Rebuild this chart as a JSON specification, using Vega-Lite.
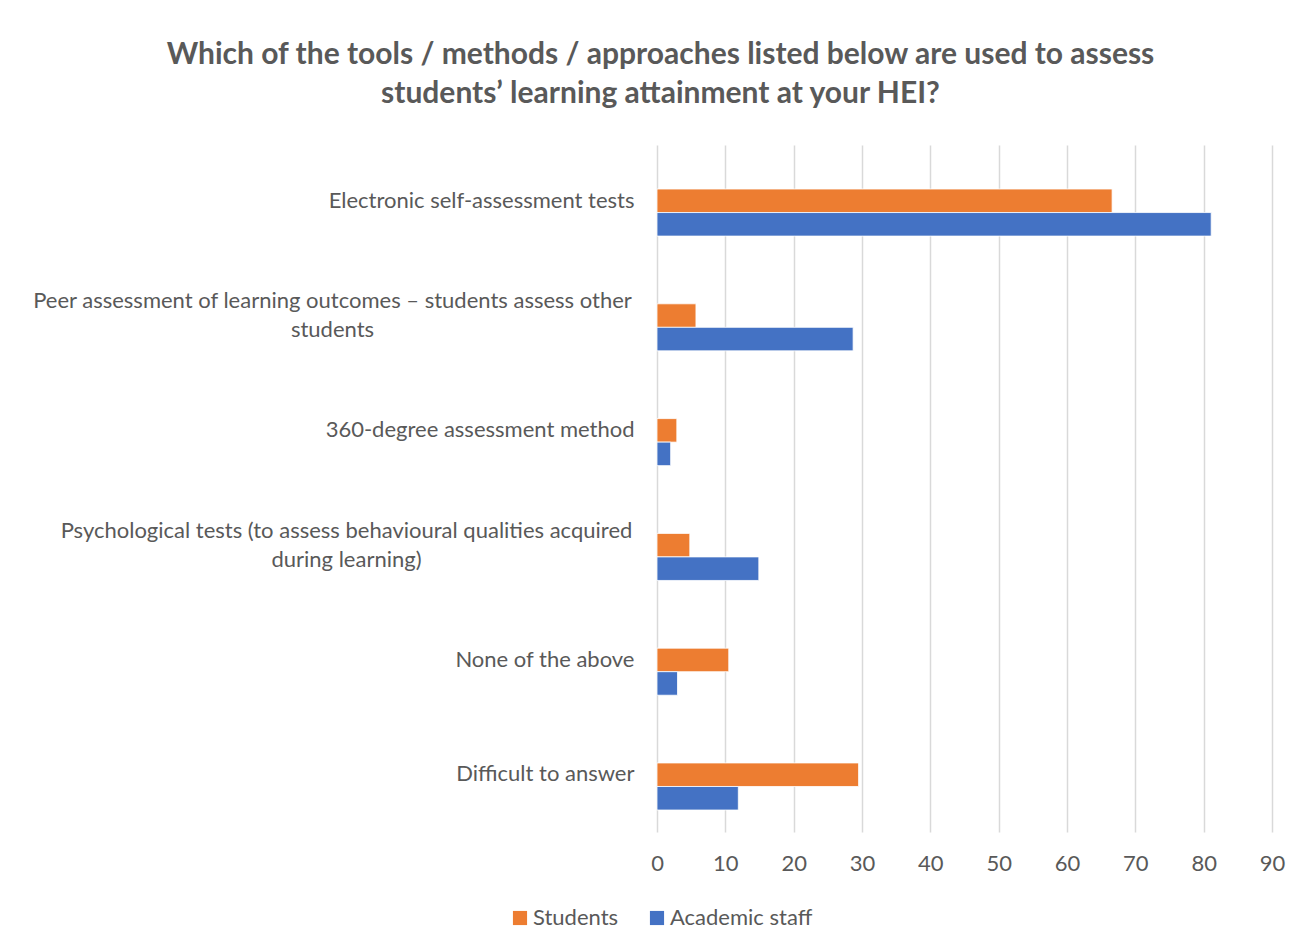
{
  "$schema": "https://vega.github.io/schema/vega-lite/v6.json",
  "autosize": "none",
  "width": 615,
  "height": 687,
  "padding": {"left": 657, "top": 145, "right": 36, "bottom": 116},
  "background": "white",
  "title": {
    "text": ["Which of the tools / methods / approaches listed below are used to assess", "students’ learning attainment at your HEI?"],
    "font": "Lato",
    "fontSize": 30,
    "fontWeight": "bold",
    "color": "#595959",
    "anchor": "middle",
    "frame": "group",
    "dx": -304,
    "offset": 36,
    "lineHeight": 39
  },
  "data": {
    "values": [
      {"category": "Electronic self-assessment tests", "group": "Students", "value": 66.6},
      {"category": "Electronic self-assessment tests", "group": "Academic staff", "value": 81.1},
      {"category": "Peer assessment of learning outcomes – students assess other students", "group": "Students", "value": 5.7},
      {"category": "Peer assessment of learning outcomes – students assess other students", "group": "Academic staff", "value": 28.7},
      {"category": "360-degree assessment method", "group": "Students", "value": 2.9},
      {"category": "360-degree assessment method", "group": "Academic staff", "value": 2.0},
      {"category": "Psychological tests (to assess behavioural qualities acquired during learning)", "group": "Students", "value": 4.8},
      {"category": "Psychological tests (to assess behavioural qualities acquired during learning)", "group": "Academic staff", "value": 14.9},
      {"category": "None of the above", "group": "Students", "value": 10.5},
      {"category": "None of the above", "group": "Academic staff", "value": 3.0},
      {"category": "Difficult to answer", "group": "Students", "value": 29.5},
      {"category": "Difficult to answer", "group": "Academic staff", "value": 11.9}
    ]
  },
  "mark": {"type": "bar", "stroke": "white", "strokeWidth": 0.8},
  "encoding": {
    "y": {
      "field": "category",
      "type": "nominal",
      "sort": null,
      "scale": {"paddingInner": 0.59, "paddingOuter": 0.2875, "align": 0.667},
      "axis": {
        "title": null,
        "domain": false,
        "ticks": false,
        "tickSize": 0,
        "labelFont": "Lato",
        "labelFontSize": 22,
        "labelColor": "#595959",
        "labelLimit": 700,
        "labelOffset": {"condition": {"test": "indexof(datum.value, 'Peer') == 0 || indexof(datum.value, 'Psych') == 0", "value": -26}, "value": -12},
        "labelLineHeight": 29,
        "labelBaseline": "middle",
        "labelExpr": "datum.value == 'Peer assessment of learning outcomes – students assess other students' ? ['Peer assessment of learning outcomes – students assess other', 'students'] : datum.value == 'Psychological tests (to assess behavioural qualities acquired during learning)' ? ['Psychological tests (to assess behavioural qualities acquired', 'during learning)'] : datum.value",
        "labelAlign": {"condition": {"test": "indexof(datum.value, 'Peer') == 0 || indexof(datum.value, 'Psych') == 0", "value": "center"}, "value": "right"},
        "labelPadding": {"condition": [
          {"test": "indexof(datum.value, 'Peer') == 0", "value": 325},
          {"test": "indexof(datum.value, 'Psych') == 0", "value": 311}
        ], "value": 23}
      }
    },
    "yOffset": {
      "field": "group",
      "type": "nominal",
      "sort": ["Students", "Academic staff"]
    },
    "x": {
      "field": "value",
      "type": "quantitative",
      "scale": {"domain": [0, 90], "nice": false},
      "axis": {
        "title": null,
        "values": [0, 10, 20, 30, 40, 50, 60, 70, 80, 90],
        "domain": false,
        "ticks": false,
        "tickSize": 0,
        "grid": true,
        "gridColor": "#d9d9d9",
        "gridWidth": 1.5,
        "labelFlush": false,
        "labelFont": "Lato",
        "labelFontSize": 22,
        "labelColor": "#595959",
        "labelPadding": 21
      }
    },
    "color": {
      "field": "group",
      "type": "nominal",
      "sort": ["Students", "Academic staff"],
      "scale": {"domain": ["Students", "Academic staff"], "range": ["#ED7D31", "#4472C4"]},
      "legend": {
        "title": null,
        "orient": "none",
        "direction": "horizontal",
        "legendX": -148,
        "legendY": 762,
        "symbolType": "square",
        "symbolSize": 200,
        "symbolStrokeWidth": 0,
        "labelFont": "Lato",
        "labelFontSize": 22,
        "labelColor": "#595959",
        "columnPadding": 27,
        "labelOffset": 2
      }
    }
  },
  "config": {"view": {"stroke": null}}
}
